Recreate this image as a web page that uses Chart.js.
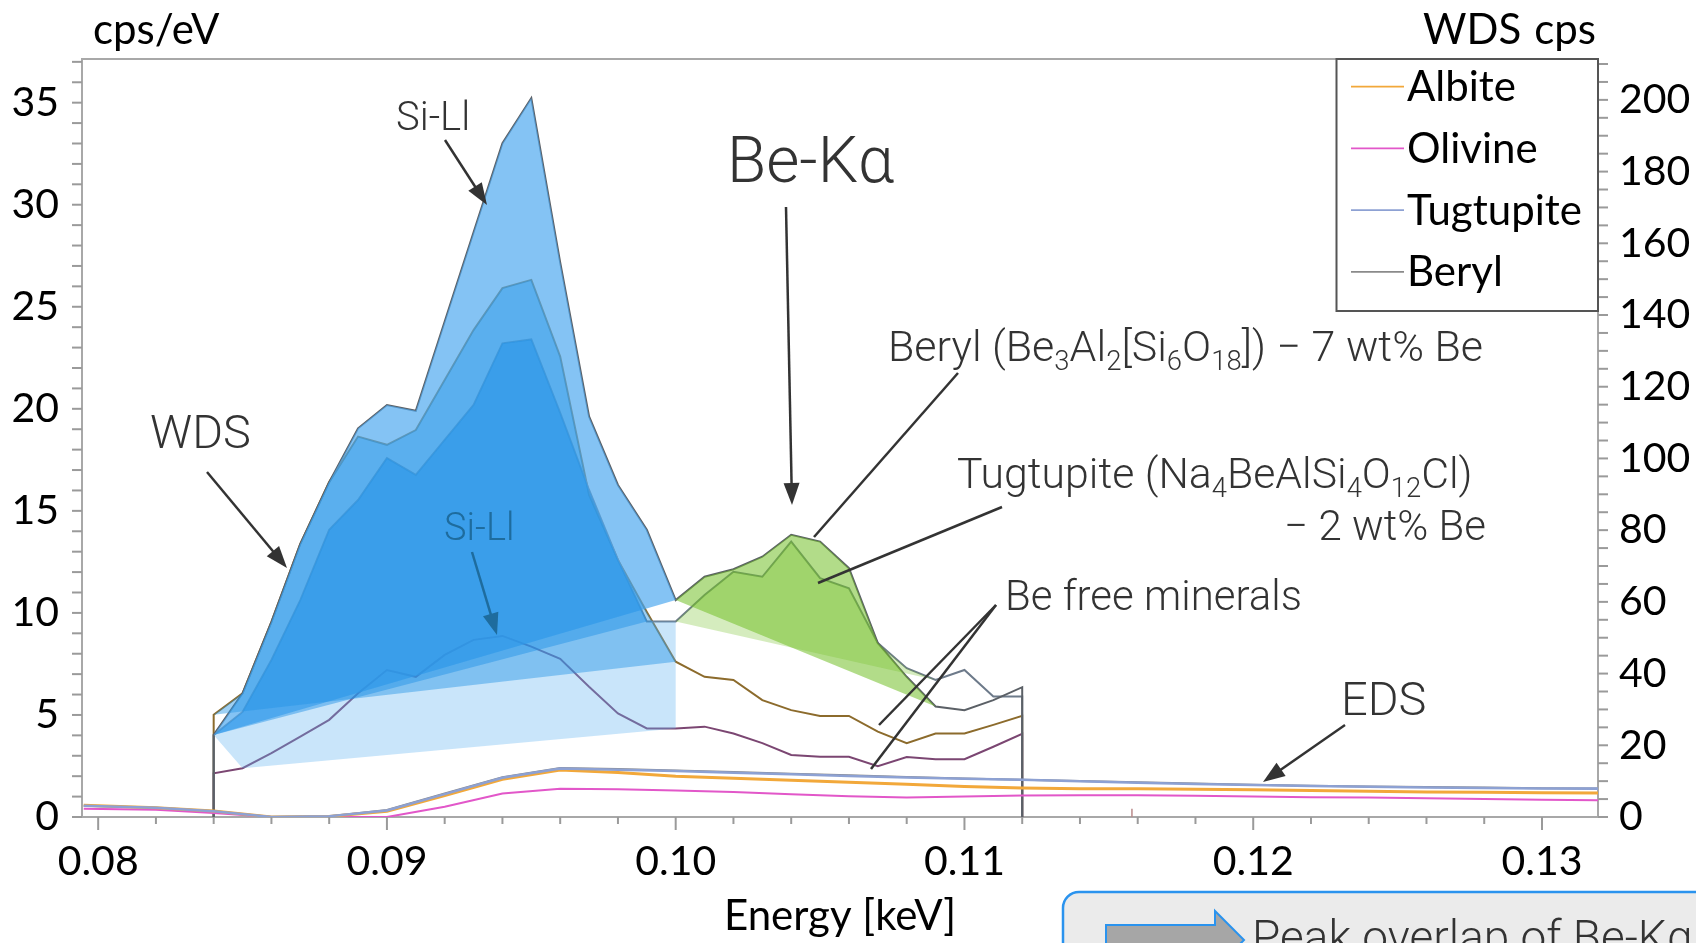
<!DOCTYPE html>
<html>
<head>
<meta charset="utf-8">
<script src="https://cdn.jsdelivr.net/npm/chart.js@4.4.1/dist/chart.umd.min.js"></script>
<style>
  html, body { margin: 0; padding: 0; background: #ffffff; overflow: hidden; }
  canvas { display: block; }
</style>
</head>
<body>
<canvas id="spectrum" width="1696" height="943"></canvas>
<script>
// ---------- WDS scans (right axis, cps), 1 eV steps ----------
const wdsEnergy = [0.084, 0.085, 0.086, 0.087, 0.088, 0.089, 0.090, 0.091, 0.092, 0.093,
                   0.094, 0.095, 0.096, 0.097, 0.098, 0.099, 0.100, 0.101, 0.102, 0.103,
                   0.104, 0.105, 0.106, 0.107, 0.108, 0.109, 0.110, 0.111, 0.112];
const wdsBeryl     = [22.9, 34.5, 54.4, 76.2, 93.4, 108.4, 114.9, 113.3, 138.2, 163.1,
                      187.9, 200.5, 154.7, 111.7, 92.6, 80.1, 60.5, 67.0, 69.1, 72.6,
                      78.7, 76.8, 69.4, 48.5, 39.1, 30.8, 29.8, 32.6, 36.2];
const wdsAlbite    = [28.5, 34.5, 54.4, 76.2, 93.4, 106.1, 103.8, 107.9, 121.9, 135.8,
                      147.5, 149.8, 128.4, 89.8, 71.7, 57.2, 43.3, 39.1, 38.2, 32.6,
                      29.8, 28.2, 28.2, 23.8, 20.6, 23.3, 23.3, 25.7, 28.2];
const wdsTugtupite = [22.9, 29.3, 43.8, 60.5, 80.1, 88.4, 100.1, 95.4, 105.2, 114.9,
                      132.1, 133.2, 112.7, 91.2, 71.7, 54.5, 54.5, 61.9, 68.4, 67.0,
                      76.8, 66.6, 63.8, 48.5, 41.5, 38.2, 41.0, 33.6, 33.6];
const wdsOlivine   = [12.2, 13.6, 17.8, 22.4, 27.1, 34.5, 41.0, 39.1, 45.2, 49.4,
                      50.5, 47.5, 44.1, 36.3, 28.9, 24.7, 24.7, 25.2, 23.3, 20.6,
                      17.3, 16.8, 16.8, 14.2, 16.7, 16.1, 16.1, 19.6, 23.2];

// index ranges of the shaded peak regions inside the WDS scans
const siLlEnd = 16;          // Si-Ll shading runs from the first step to this one
const siLlEndTugtupite = 15;
const beKaStart = 16;        // Be-Ka shading
const beKaEnd = 25;

// ---------- EDS spectra (left axis, cps/eV) ----------
const edsEnergy = [0.0795, 0.082, 0.084, 0.086, 0.088, 0.090, 0.092, 0.094, 0.096, 0.098,
                   0.100, 0.102, 0.104, 0.106, 0.108, 0.110, 0.112, 0.114, 0.116, 0.118,
                   0.120, 0.122, 0.124, 0.126, 0.128, 0.130, 0.132];
const edsAlbite    = [0.57, 0.45, 0.29, 0.0, 0.03, 0.28, 1.05, 1.85, 2.30, 2.18,
                      2.00, 1.90, 1.80, 1.70, 1.60, 1.50, 1.42, 1.39, 1.38, 1.36,
                      1.33, 1.30, 1.26, 1.23, 1.21, 1.19, 1.18];
const edsOlivine   = [0.41, 0.35, 0.20, 0.0, 0.0, 0.0, 0.50, 1.15, 1.38, 1.36,
                      1.30, 1.22, 1.12, 1.02, 0.96, 1.00, 1.05, 1.06, 1.06, 1.04,
                      1.00, 0.97, 0.95, 0.92, 0.88, 0.85, 0.82];
const edsTugtupite = [0.55, 0.45, 0.28, 0.0, 0.04, 0.32, 1.12, 1.92, 2.38, 2.32,
                      2.25, 2.17, 2.09, 2.01, 1.93, 1.87, 1.82, 1.75, 1.68, 1.62,
                      1.57, 1.52, 1.48, 1.45, 1.42, 1.40, 1.39];
const edsBeryl     = [0.55, 0.45, 0.28, 0.0, 0.04, 0.34, 1.15, 1.95, 2.40, 2.35,
                      2.28, 2.20, 2.12, 2.04, 1.96, 1.89, 1.83, 1.77, 1.70, 1.64,
                      1.58, 1.53, 1.50, 1.47, 1.44, 1.41, 1.40];

// small marker on the energy axis
const markerEnergy = [0.1158, 0.1158];
const markerValue  = [0, 0.4];

// ---------- axes ----------
const xRange = [0.07944, 0.13194];
const leftRange = [0, 37.14];
const rightRange = [0, 211.4];
const xMajorLabels = ['0.08', '0.09', '0.10', '0.11', '0.12', '0.13'];
const xMinorStep = 0.002;
const leftLabels = [0, 5, 10, 15, 20, 25, 30, 35];
const rightLabels = [0, 20, 40, 60, 80, 100, 120, 140, 160, 180, 200];
const legendNames = ['Albite', 'Olivine', 'Tugtupite', 'Beryl'];

const xTickValues = [];
for (let v = 0.080; v <= 0.1301; v += xMinorStep) xTickValues.push(Math.round(v * 1000) / 1000);
const leftTickValues = [];
for (let v = 0; v <= 37; v++) leftTickValues.push(v);
const rightTickValues = [];
for (let v = 0; v <= 210; v += 5) rightTickValues.push(v);

const edsColors = { Albite: '#F2A83A', Olivine: '#E257C9', Tugtupite: '#8DA1D3', Beryl: '#8A8A8A' };
const wdsColors = { Albite: '#8C6B2C', Olivine: '#7B4672', Tugtupite: '#6D7A8A', Beryl: '#5B6066' };

function pts(xs, ys, from = 0, to = ys.length - 1) {
  const out = [];
  for (let i = from; i <= to; i++) out.push({ x: xs[i], y: ys[i] });
  return out;
}
// full WDS trace, dropping to the baseline at both ends of the scan
function wdsTrace(ys) {
  const p = pts(wdsEnergy, ys);
  return [{ x: wdsEnergy[0], y: 0 }, ...p, { x: wdsEnergy[wdsEnergy.length - 1], y: 0 }];
}

const lineBase = { pointRadius: 0, tension: 0, fill: false };
const shapeBase = { pointRadius: 0, tension: 0, borderWidth: 0, fill: 'shape', yAxisID: 'y2' };

const datasets = [
  // EDS spectra
  { ...lineBase, label: 'Albite',    data: pts(edsEnergy, edsAlbite),    borderColor: edsColors.Albite,    borderWidth: 3,   yAxisID: 'y', order: 1 },
  { ...lineBase, label: 'Olivine',   data: pts(edsEnergy, edsOlivine),   borderColor: edsColors.Olivine,   borderWidth: 2,   yAxisID: 'y', order: 2 },
  { ...lineBase, label: 'Tugtupite', data: pts(edsEnergy, edsTugtupite), borderColor: edsColors.Tugtupite, borderWidth: 2.5, yAxisID: 'y', order: 0 },
  { ...lineBase, label: 'Beryl',     data: pts(edsEnergy, edsBeryl),     borderColor: edsColors.Beryl,     borderWidth: 2,   yAxisID: 'y', order: 3 },
  { ...lineBase, label: 'marker', data: pts(markerEnergy, markerValue), borderColor: '#B98A8A', borderWidth: 1.5, yAxisID: 'y', order: 4 },

  // WDS scans
  { ...lineBase, label: 'WDS Beryl',     data: wdsTrace(wdsBeryl),     borderColor: wdsColors.Beryl,     borderWidth: 2, yAxisID: 'y2', order: 20 },
  { ...lineBase, label: 'WDS Tugtupite', data: wdsTrace(wdsTugtupite), borderColor: wdsColors.Tugtupite, borderWidth: 2, yAxisID: 'y2', order: 21 },
  { ...lineBase, label: 'WDS Olivine',   data: wdsTrace(wdsOlivine),   borderColor: wdsColors.Olivine,   borderWidth: 2, yAxisID: 'y2', order: 22 },
  { ...lineBase, label: 'WDS Albite',    data: wdsTrace(wdsAlbite),    borderColor: wdsColors.Albite,    borderWidth: 2, yAxisID: 'y2', order: 23 },

  // Si-Ll shading
  { ...shapeBase, label: 'Si-Ll lower',
    data: [...pts(wdsEnergy, wdsTugtupite, 0, siLlEnd),
           { x: wdsEnergy[siLlEnd], y: wdsOlivine[siLlEnd] },
           { x: wdsEnergy[1], y: wdsOlivine[1] }],
    backgroundColor: 'rgba(100,180,240,0.35)', order: 15 },
  { ...shapeBase, label: 'Si-Ll Beryl',     data: pts(wdsEnergy, wdsBeryl, 0, siLlEnd),
    backgroundColor: 'rgba(80,170,240,0.7)', order: 14 },
  { ...shapeBase, label: 'Si-Ll Albite',    data: pts(wdsEnergy, wdsAlbite, 0, siLlEnd),
    backgroundColor: 'rgba(40,150,230,0.45)', order: 13 },
  { ...shapeBase, label: 'Si-Ll Tugtupite', data: pts(wdsEnergy, wdsTugtupite, 0, siLlEndTugtupite),
    backgroundColor: 'rgba(30,145,230,0.45)', order: 12 },

  // Be-Ka shading
  { ...shapeBase, label: 'Be-Ka Beryl',     data: pts(wdsEnergy, wdsBeryl, beKaStart, beKaEnd),
    backgroundColor: 'rgba(115,192,40,0.55)', order: 11 },
  { ...shapeBase, label: 'Be-Ka Tugtupite', data: pts(wdsEnergy, wdsTugtupite, beKaStart, beKaEnd),
    backgroundColor: 'rgba(115,192,40,0.3)', order: 10 }
];

const CAL = 'Lato, "Open Sans", sans-serif';
const THIN = '"Roboto Light", Roboto, "Noto Sans", sans-serif';

function arrow(ctx, x1, y1, x2, y2, color, head = true) {
  ctx.save();
  ctx.strokeStyle = color; ctx.fillStyle = color; ctx.lineWidth = 2.5;
  const a = Math.atan2(y2 - y1, x2 - x1);
  const hl = head ? 22 : 0, hw = 8;
  ctx.beginPath();
  ctx.moveTo(x1, y1);
  ctx.lineTo(x2 - Math.cos(a) * hl * 0.8, y2 - Math.sin(a) * hl * 0.8);
  ctx.stroke();
  if (head) {
    ctx.beginPath();
    ctx.moveTo(x2, y2);
    ctx.lineTo(x2 - Math.cos(a) * hl + Math.sin(a) * hw, y2 - Math.sin(a) * hl - Math.cos(a) * hw);
    ctx.lineTo(x2 - Math.cos(a) * hl - Math.sin(a) * hw, y2 - Math.sin(a) * hl + Math.cos(a) * hw);
    ctx.closePath();
    ctx.fill();
  }
  ctx.restore();
}

function richText(ctx, runs, x, y, size, align) {
  const f = s => `300 ${s}px ${THIN}`;
  const widths = runs.map(([t, sub]) => { ctx.font = f(sub ? size * 0.64 : size); return ctx.measureText(t).width; });
  const total = widths.reduce((a, b) => a + b, 0);
  let cx = align === 'right' ? x - total : x;
  ctx.textAlign = 'left';
  ctx.textBaseline = 'alphabetic';
  runs.forEach(([t, sub], i) => {
    ctx.font = f(sub ? size * 0.64 : size);
    ctx.fillText(t, cx, sub ? y + size * 0.22 : y);
    cx += widths[i];
  });
}

const overlay = {
  id: 'overlay',
  afterDraw(chart) {
    const { ctx, chartArea: ca, scales } = chart;
    ctx.save();

    // frame top edge
    ctx.strokeStyle = '#A8A8A8'; ctx.lineWidth = 2;
    ctx.beginPath(); ctx.moveTo(ca.left, ca.top); ctx.lineTo(ca.right, ca.top); ctx.stroke();

    // tick marks
    ctx.strokeStyle = '#9A9A9A'; ctx.lineWidth = 2;
    xTickValues.forEach(v => {
      const px = scales.x.getPixelForValue(v);
      const major = Math.abs(v * 100 - Math.round(v * 100)) < 1e-6;
      ctx.beginPath(); ctx.moveTo(px, ca.bottom); ctx.lineTo(px, ca.bottom + (major ? 13 : 7)); ctx.stroke();
    });
    leftTickValues.forEach(v => {
      const py = scales.y.getPixelForValue(v);
      ctx.beginPath(); ctx.moveTo(ca.left - 10, py); ctx.lineTo(ca.left, py); ctx.stroke();
    });
    rightTickValues.forEach(v => {
      const py = scales.y2.getPixelForValue(v);
      ctx.beginPath(); ctx.moveTo(ca.right, py); ctx.lineTo(ca.right + 10, py); ctx.stroke();
    });

    // axis titles
    ctx.fillStyle = '#000';
    ctx.font = `42px ${CAL}`;
    ctx.textBaseline = 'middle';
    ctx.textAlign = 'left';
    ctx.fillText('cps/eV', 93, 30);
    ctx.fillText('WDS', 1423, 30);
    ctx.textAlign = 'right';
    ctx.fillText('cps', 1596, 30);

    // legend
    const lx = 1336.5, ly = ca.top, lw = ca.right - lx, lh = 252;
    ctx.strokeStyle = '#555'; ctx.lineWidth = 2;
    ctx.strokeRect(lx, ly, lw, lh);
    legendNames.forEach((name, i) => {
      const y = 86.7 + i * 61.7;
      ctx.strokeStyle = edsColors[name]; ctx.lineWidth = 1.8;
      ctx.beginPath(); ctx.moveTo(1351, y); ctx.lineTo(1404, y); ctx.stroke();
      ctx.fillStyle = '#000'; ctx.textAlign = 'left'; ctx.textBaseline = 'middle';
      ctx.font = `42px ${CAL}`;
      ctx.fillText(name, 1407, y + 1);
    });

    // annotations
    const ink = '#333333';
    ctx.fillStyle = ink;
    ctx.textAlign = 'left'; ctx.textBaseline = 'alphabetic';
    ctx.font = `300 40px ${THIN}`;
    ctx.fillText('Si-Ll', 396, 130);
    arrow(ctx, 445, 140, 487, 205, ink);

    ctx.font = `300 64px ${THIN}`;
    ctx.fillText('Be-K\u03B1', 727, 182);
    arrow(ctx, 786, 207, 792, 505, ink);

    ctx.font = `300 47px ${THIN}`;
    ctx.fillText('WDS', 150, 448);
    arrow(ctx, 207, 472, 287, 568, ink);

    ctx.fillStyle = '#1E6C9E';
    ctx.font = `300 38px ${THIN}`;
    ctx.fillText('Si-Ll', 444, 540);
    arrow(ctx, 472, 552, 497, 635, '#1E6C9E');

    ctx.fillStyle = ink;
    richText(ctx, [['Beryl (Be', 0], ['3', 1], ['Al', 0], ['2', 1], ['[Si', 0], ['6', 1], ['O', 0], ['18', 1], [']) \u2212 7 wt% Be', 0]],
             888, 361, 43, 'left');
    arrow(ctx, 958, 373, 814, 537, ink, false);

    richText(ctx, [['Tugtupite (Na', 0], ['4', 1], ['BeAlSi', 0], ['4', 1], ['O', 0], ['12', 1], ['Cl)', 0]],
             957, 488, 42.8, 'left');
    richText(ctx, [['\u2212 2 wt% Be', 0]], 1486, 540, 42, 'right');
    arrow(ctx, 1002, 507, 818, 583, ink, false);

    richText(ctx, [['Be free minerals', 0]], 1005, 610, 42, 'left');
    arrow(ctx, 996, 605, 879, 725, ink, false);
    arrow(ctx, 996, 605, 871, 769, ink, false);

    richText(ctx, [['EDS', 0]], 1341, 715, 47, 'left');
    arrow(ctx, 1345, 725, 1263, 782, ink);

    // callout box at the lower right
    ctx.fillStyle = '#EBEBEB'; ctx.strokeStyle = '#2A93EE'; ctx.lineWidth = 2.5;
    ctx.beginPath(); ctx.roundRect(1063, 892, 700, 200, 16); ctx.fill(); ctx.stroke();
    ctx.fillStyle = '#A6A6A6'; ctx.strokeStyle = '#2A93EE'; ctx.lineWidth = 2;
    ctx.beginPath();
    ctx.moveTo(1106, 925); ctx.lineTo(1215, 925); ctx.lineTo(1215, 911);
    ctx.lineTo(1244, 940); ctx.lineTo(1215, 969); ctx.lineTo(1215, 955); ctx.lineTo(1106, 955);
    ctx.closePath(); ctx.fill(); ctx.stroke();
    ctx.fillStyle = ink;
    richText(ctx, [['Peak overlap of Be-K\u03B1', 0]], 1252, 953, 46, 'left');

    ctx.restore();
  }
};

const axisFont = { family: CAL, size: 41 };

new Chart(document.getElementById('spectrum').getContext('2d'), {
  type: 'line',
  data: { datasets },
  options: {
    responsive: false,
    animation: false,
    events: [],
    layout: { padding: { top: 59, left: 0, right: 0, bottom: 0 } },
    plugins: { legend: { display: false }, tooltip: { enabled: false } },
    scales: {
      x: {
        type: 'linear', min: xRange[0], max: xRange[1],
        afterFit: s => { s.height = 126; },
        afterBuildTicks: s => { s.ticks = xTickValues.map(v => ({ value: v })); },
        ticks: {
          autoSkip: false, maxRotation: 0, padding: 20, color: '#000', font: axisFont,
          callback: v => {
            const lab = v.toFixed(2);
            return (Math.abs(v * 100 - Math.round(v * 100)) < 1e-6 && xMajorLabels.includes(lab)) ? lab : '';
          }
        },
        grid: { display: true, drawOnChartArea: false, drawTicks: false },
        border: { display: true, color: '#A8A8A8', width: 2 },
        title: { display: true, text: 'Energy [keV]', color: '#000', font: { family: CAL, size: 42 }, padding: { top: 0, bottom: 1 } }
      },
      y: {
        position: 'left', min: leftRange[0], max: leftRange[1],
        afterFit: s => { s.width = 82; },
        afterBuildTicks: s => { s.ticks = leftTickValues.map(v => ({ value: v })); },
        ticks: { autoSkip: false, padding: 23, color: '#000', font: axisFont,
                 callback: v => leftLabels.includes(v) ? String(v) : '' },
        grid: { display: true, drawOnChartArea: false, drawTicks: false },
        border: { display: true, color: '#A8A8A8', width: 2 }
      },
      y2: {
        position: 'right', min: rightRange[0], max: rightRange[1],
        afterFit: s => { s.width = 98; },
        afterBuildTicks: s => { s.ticks = rightTickValues.map(v => ({ value: v })); },
        ticks: { autoSkip: false, padding: 21, color: '#000', font: axisFont,
                 callback: v => rightLabels.includes(v) ? String(v) : '' },
        grid: { display: true, drawOnChartArea: false, drawTicks: false },
        border: { display: true, color: '#A8A8A8', width: 2 }
      }
    }
  },
  plugins: [overlay]
});
</script>
</body>
</html>
